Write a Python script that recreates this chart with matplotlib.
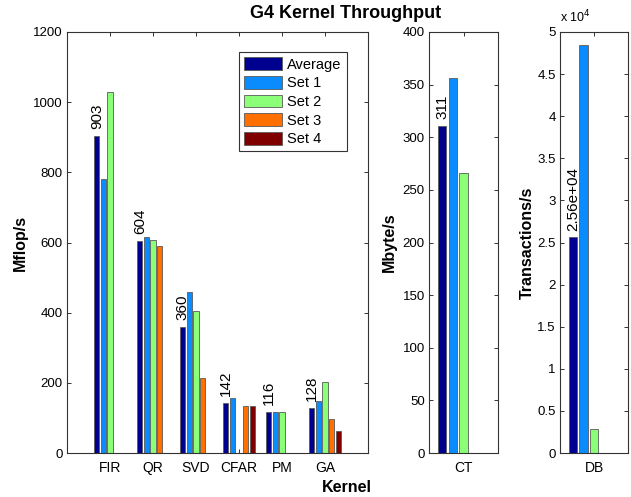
import numpy as np
import matplotlib
matplotlib.use("Agg")
import matplotlib.pyplot as plt
from matplotlib.ticker import FuncFormatter

plt.rcParams['font.family'] = ['Liberation Sans', 'DejaVu Sans']

series = ["Average", "Set 1", "Set 2", "Set 3", "Set 4"]
colors = ["#000090", "#0A8CFF", "#8CFF78", "#FF7000", "#800000"]

kernels_left = ["FIR", "QR", "SVD", "CFAR", "PM", "GA"]
nan = np.nan
avg_left = [903, 604, 360, 142, 116, 128]
set1_left = [780, 617, 460, 156, 116, 149]
set2_left = [1030, 606, 404, nan, 116, 203]
set3_left = [nan, 590, 213, 134, nan, 97]
set4_left = [nan, nan, nan, 134, nan, 62]

kernels_ct = ["CT"]
avg_ct = [311]
set1_ct = [356]
set2_ct = [266]

kernels_db = ["DB"]
avg_db = [25600]
set1_db = [48400]
set2_db = [2800]

fig = plt.figure(figsize=(6.31, 4.97), dpi=100)
W, H = 631, 497

def ax_at(x0, x1, y0=32, y1=453):
    return fig.add_axes([x0 / W, 1 - y1 / H, (x1 - x0) / W, (y1 - y0) / H])

ax1 = ax_at(67, 368)
ax2 = ax_at(429, 498)
ax3 = ax_at(560, 628)

pitch = 0.154
bw = 0.123

def draw(ax, cats, data, fmt):
    x = np.arange(1, len(cats) + 1)
    n = 5
    for i in range(n):
        if i < len(data):
            vals = np.array(data[i], dtype=float)
        else:
            vals = np.full(len(cats), nan)
        ax.bar(x + (i - 2) * pitch, vals, bw, color=colors[i],
               edgecolor="#5a5a5a", linewidth=0.6, label=series[i], zorder=2)
    for xi, v in zip(x, data[0]):
        ax.annotate(fmt(v), (xi - 2 * pitch, v), xytext=(0, 5), textcoords="offset points",
                    rotation=90, ha="center", va="bottom", fontsize=11)
    ax.set_xticks(x)
    ax.set_xticklabels(cats, fontsize=10)
    ax.tick_params(axis="both", direction="in", top=True, right=True, length=3,
                   width=0.7, color="#333333", pad=3)
    ax.tick_params(axis="x", pad=6)
    ax.tick_params(axis="y", labelsize=9.5)
    for s in ax.spines.values():
        s.set_color("#333333")
        s.set_linewidth(0.8)

draw(ax1, kernels_left, [avg_left, set1_left, set2_left, set3_left, set4_left],
     lambda v: "%g" % v)
ax1.set_xlim(0, 7)
ax1.set_ylim(0, 1200)
ax1.set_yticks(np.arange(0, 1201, 200))
ax1.set_ylabel("Mflop/s", fontsize=11.5, fontweight="bold", labelpad=4)
leg = ax1.legend(loc="upper right", bbox_to_anchor=(0.93, 0.952), borderaxespad=0,
                 fontsize=10.5, handlelength=2.6, handleheight=0.95, handletextpad=0.35,
                 labelspacing=0.3, fancybox=False, framealpha=1, borderpad=0.35)
leg.get_frame().set_edgecolor("#333333")
leg.get_frame().set_linewidth(0.8)

draw(ax2, kernels_ct, [avg_ct, set1_ct, set2_ct], lambda v: "%g" % v)
ax2.set_xlim(0.5, 1.5)
ax2.set_ylim(0, 400)
ax2.set_yticks(np.arange(0, 401, 50))
ax2.set_ylabel("Mbyte/s", fontsize=11.5, fontweight="bold", labelpad=4)

draw(ax3, kernels_db, [avg_db, set1_db, set2_db], lambda v: "%.3g" % v)
ax3.set_xlim(0.5, 1.5)
ax3.set_ylim(0, 50000)
ax3.set_yticks(np.arange(0, 50001, 5000))
ax3.yaxis.set_major_formatter(FuncFormatter(lambda v, p: "%g" % (v / 1e4)))
ax3.set_ylabel("Transactions/s", fontsize=11.5, fontweight="bold", labelpad=2)
ax3.text(0.0, 1.015, r"x 10$^{4}$", transform=ax3.transAxes, fontsize=9,
         ha="left", va="bottom")

fig.text(346 / W, 1 - 13 / H, "G4 Kernel Throughput", ha="center", va="center",
         fontsize=13, fontweight="bold")
fig.text(347 / W, 1 - 487 / H, "Kernel", ha="center", va="center",
         fontsize=11.5, fontweight="bold")

fig.savefig("out.png", dpi=100)
